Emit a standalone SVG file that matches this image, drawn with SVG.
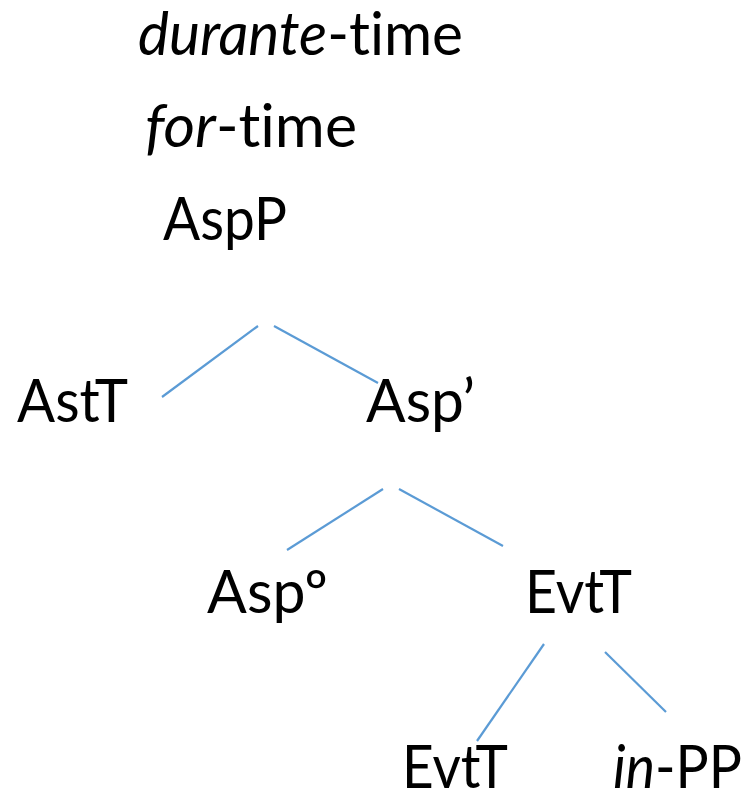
<svg xmlns="http://www.w3.org/2000/svg" width="749" height="799" viewBox="0 0 749 799">
<style>
text{font-family:Lato,"Liberation Sans",sans-serif;font-size:60px;fill:#000;font-variant-ligatures:none;font-feature-settings:"liga" 0}
.i{font-style:italic}
.e{stroke:#5B9BD5;stroke-width:2.2;fill:none}
</style>
<rect width="749" height="799" fill="#fff"/>
<g id="durante"><text x="138" y="55" textLength="325" lengthAdjust="spacingAndGlyphs"><tspan class="i">durante</tspan>-time</text></g>
<g id="for"><text x="145" y="147" textLength="212" lengthAdjust="spacingAndGlyphs"><tspan class="i">for</tspan>-time</text></g>
<g id="AspP"><text x="163" y="240" textLength="124" lengthAdjust="spacingAndGlyphs">AspP</text></g>
<g id="AstT"><text x="17" y="422" textLength="111" lengthAdjust="spacingAndGlyphs">AstT</text></g>
<g id="AspBar"><text x="366" y="422" textLength="109" lengthAdjust="spacingAndGlyphs">Asp’</text></g>
<g id="Asp0"><text x="207" y="613" textLength="121" lengthAdjust="spacingAndGlyphs">Aspº</text></g>
<g id="EvtT1"><text x="525" y="613" textLength="107" lengthAdjust="spacingAndGlyphs">EvtT</text></g>
<g id="EvtT2"><text x="402" y="788" textLength="106" lengthAdjust="spacingAndGlyphs">EvtT</text></g>
<g id="inPP"><text x="613" y="788" textLength="129" lengthAdjust="spacingAndGlyphs"><tspan class="i">in</tspan>-PP</text></g>
<g id="connectors">
<line class="e" x1="258" y1="326" x2="162" y2="397"/>
<line class="e" x1="274" y1="326" x2="378" y2="383"/>
<line class="e" x1="383" y1="489" x2="287" y2="550"/>
<line class="e" x1="399" y1="489" x2="503" y2="546"/>
<line class="e" x1="544" y1="644" x2="477" y2="741"/>
<line class="e" x1="605" y1="652" x2="666" y2="712"/>
</g>
</svg>
